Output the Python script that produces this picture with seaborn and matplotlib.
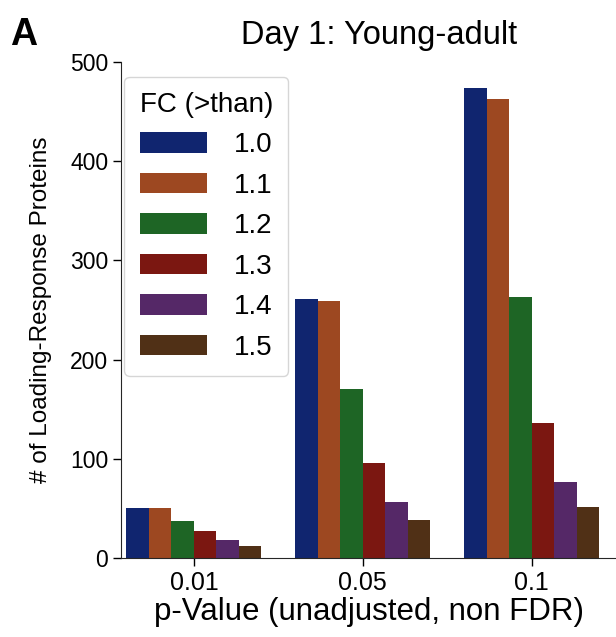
import numpy as np
import matplotlib
matplotlib.use("Agg")
import matplotlib.pyplot as plt
import seaborn as sns
import pandas as pd

# dati
p_values = ["0.01", "0.05", "0.1"]
fc_levels = ["1.0", "1.1", "1.2", "1.3", "1.4", "1.5"]
conteggi_001 = [50, 50, 37, 27, 18, 12]
conteggi_005 = [261, 259, 170, 96, 56, 38]
conteggi_01 = [474, 463, 263, 136, 77, 51]

righe = []
for p, valori in zip(p_values, [conteggi_001, conteggi_005, conteggi_01]):
    for fc, v in zip(fc_levels, valori):
        righe.append({"p": p, "FC": fc, "n": v})
df = pd.DataFrame(righe)

sns.set_style("ticks")
plt.rcParams['font.family'] = ['Liberation Sans', 'DejaVu Sans']
plt.rcParams['text.color'] = 'black'
plt.rcParams['axes.labelcolor'] = 'black'
plt.rcParams['xtick.color'] = 'black'
plt.rcParams['ytick.color'] = 'black'

fig = plt.figure(figsize=(6.16, 6.37), dpi=100)
ax = fig.add_axes([0.197, 0.124, 0.803, 0.779])

sns.barplot(data=df, x="p", y="n", hue="FC", palette="dark",
            order=p_values, hue_order=fc_levels, linewidth=0, ax=ax)

ax.set_xlim(-0.43, 2.5)
ax.set_ylim(0, 500)
ax.set_yticks([0, 100, 200, 300, 400, 500])
ax.tick_params(axis="x", labelsize=18, length=6, width=1)
ax.tick_params(axis="y", labelsize=16.5, length=6, width=1)
ax.set_xlabel("p-Value (unadjusted, non FDR)", fontsize=22.5, labelpad=1)
ax.set_ylabel("# of Loading-Response Proteins", fontsize=17.5, labelpad=13)
ax.set_title("Day 1: Young-adult", fontsize=23.5, pad=13, x=0.52)
sns.despine(ax=ax)

leg = ax.legend(title="FC (>than)", fontsize=20, title_fontsize=20,
                loc="upper left", bbox_to_anchor=(0.006, 0.97), borderaxespad=0,
                handlelength=2.4, handleheight=0.76, handletextpad=0.95,
                labelspacing=0.52, borderpad=0.55)

fig.text(0.017, 0.929, "A", fontsize=27, fontweight="bold")

fig.savefig("out.png", dpi=100)
